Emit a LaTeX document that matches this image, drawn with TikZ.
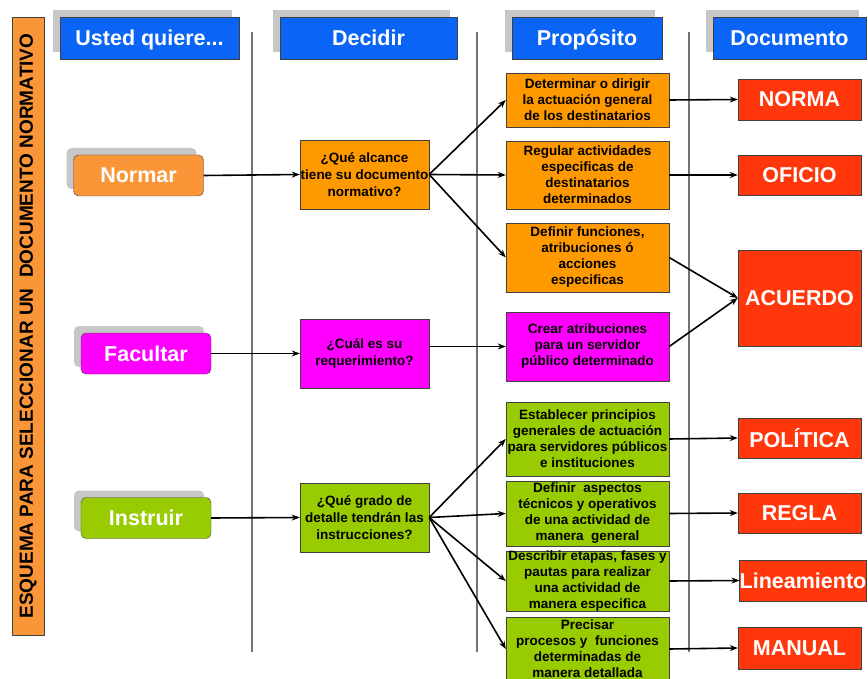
\documentclass[tikz,border=0pt]{standalone}
\usepackage{fontspec}
\setmainfont{Liberation Sans}
\usetikzlibrary{arrows.meta,shadows}
\definecolor{azul}{RGB}{10,100,245}
\definecolor{naranja}{RGB}{255,153,0}
\definecolor{naranjab}{RGB}{250,150,55}
\definecolor{rosa}{RGB}{255,0,255}
\definecolor{verde}{RGB}{153,204,0}
\definecolor{rojo}{RGB}{255,55,10}
\begin{document}
\begin{tikzpicture}[x=1pt,y=-1pt,
    sombra/.style={drop shadow={shadow xshift=-7pt,shadow yshift=7pt,fill=black!22,opacity=1}},
    encabezado/.style={draw=black!75,fill=azul,text=white,sombra,minimum height=42pt,inner sep=0pt,text height=16pt,text depth=0pt,font=\bfseries\fontsize{21.5}{24}\selectfont},
    accion/.style={draw=black!75,rounded corners=5pt,text=white,sombra,minimum width=130pt,minimum height=41pt,inner sep=0pt,font=\bfseries\fontsize{21.5}{24}\selectfont},
    pregunta/.style={draw=black!75,minimum width=129pt,minimum height=69pt,inner sep=0pt,align=center,font=\bfseries\fontsize{13.5}{17}\selectfont},
    proposito/.style={draw=black!75,minimum width=163pt,inner sep=0pt,align=center,font=\bfseries\fontsize{13.5}{16}\selectfont},
    documento/.style={draw=black!75,fill=rojo,text=white,minimum width=123pt,inner sep=0pt,font=\bfseries\fontsize{21.5}{24}\selectfont},
    separador/.style={draw=black!55,line width=1.5pt},
    flecha/.style={line width=1.6pt,-{Stealth[length=8pt,width=6pt]}}]
  \useasboundingbox (0,0) rectangle (868,679);
  % banda lateral
  \node[draw=black!75,fill=naranjab,rotate=90,minimum width=618pt,minimum height=32pt,inner sep=0pt,
    font=\bfseries\fontsize{19}{22}\selectfont] (titulo) at (28,326) {ESQUEMA PARA SELECCIONAR UN~~DOCUMENTO NORMATIVO};
  \draw[separador] (252,32) -- (252,652);
  \draw[separador] (477,32) -- (477,652);
  \draw[separador] (689,32) -- (689,652);
  % encabezados
  \node[encabezado,minimum width=179pt] (usted) at (149.5,38) {Usted quiere...};
  \node[encabezado,minimum width=177pt] (decidir) at (368.5,38) {Decidir};
  \node[encabezado,minimum width=150pt] (proposito) at (587,38) {Propósito};
  \node[encabezado,minimum width=153pt] (documento) at (789.5,38) {Documento};
  % columna 1
  \node[accion,fill=naranjab] (normar) at (138.5,175.5) {Normar};
  \node[accion,fill=rosa] (facultar) at (146,353.5) {Facultar};
  \node[accion,fill=verde] (instruir) at (146,518) {Instruir};
  % columna 2
  \node[pregunta,fill=naranja] (q1) at (364.5,174.5) {¿Qué alcance\\tiene su documento\\normativo?};
  \node[pregunta,fill=rosa] (q2) at (364.5,353.5) {¿Cuál es su\\requerimiento?};
  \node[pregunta,fill=verde] (q3) at (364.5,517.5) {¿Qué grado de\\detalle tendrán las\\instrucciones?};
  % columna 3
  \node[proposito,fill=naranja,minimum height=54pt] (p1) at (587.5,100) {Determinar o dirigir\\la actuación general\\de los destinatarios};
  \node[proposito,fill=naranja,minimum height=68pt] (p2) at (587.5,175) {Regular actividades\\especificas de\\destinatarios\\determinados};
  \node[proposito,fill=naranja,minimum height=69pt] (p3) at (587.5,257.5) {Definir funciones,\\atribuciones ó\\acciones\\especificas};
  \node[proposito,fill=rosa,minimum height=69pt] (p4) at (587.5,346.5) {Crear atribuciones\\para un servidor\\público determinado};
  \node[proposito,fill=verde,minimum height=74pt] (p5) at (587.5,439) {Establecer principios\\generales de actuación\\para servidores públicos\\e instituciones};
  \node[proposito,fill=verde,minimum height=65pt] (p6) at (587.5,513.5) {Definir~~aspectos\\técnicos y operativos\\de una actividad de\\manera~~general};
  \node[proposito,fill=verde,minimum height=60pt] (p7) at (587.5,581) {Describir etapas, fases y\\pautas para realizar\\una actividad de\\manera especifica};
  \node[proposito,fill=verde,minimum height=64pt] (p8) at (587.5,649) {Precisar\\procesos y~~funciones\\determinadas de\\manera detallada};
  % columna 4
  \node[documento,minimum height=41pt] (norma) at (799.5,99.5) {NORMA};
  \node[documento,minimum height=40pt] (oficio) at (799.5,175) {OFICIO};
  \node[documento,minimum height=96pt] (acuerdo) at (799.5,298) {ACUERDO};
  \node[documento,minimum height=40pt] (politica) at (799.5,438) {POLÍTICA};
  \node[documento,minimum height=40pt] (regla) at (799.5,513) {REGLA};
  \node[documento,minimum height=41pt,minimum width=126pt] (lineamiento) at (803,580.5) {Lineamiento};
  \node[documento,minimum height=42pt] (manual) at (799.5,648) {MANUAL};
  % flechas
  \draw[flecha] (normar.east) -- (q1.west);
  \draw[flecha] (facultar.east) -- (q2.west);
  \draw[flecha] (instruir.east) -- (q3.west);
  \draw[flecha] (q1.east) -- (p1.west);
  \draw[flecha] (q1.east) -- (p2.west);
  \draw[flecha] (q1.east) -- (p3.west);
  \draw[flecha] (p4.west -| q2.east) -- (p4.west);
  \draw[flecha] (q3.east) -- (p5.west);
  \draw[flecha] (q3.east) -- (p6.west);
  \draw[flecha] (q3.east) -- (p7.west);
  \draw[flecha] (q3.east) -- (p8.west);
  \draw[flecha] (p1.east) -- (norma.west);
  \draw[flecha] (p2.east) -- (oficio.west);
  \draw[flecha] (p3.east) -- (acuerdo.west);
  \draw[flecha] (p4.east) -- (acuerdo.west);
  \draw[flecha] (p5.east) -- (politica.west);
  \draw[flecha] (p6.east) -- (regla.west);
  \draw[flecha] (p7.east) -- (lineamiento.west);
  \draw[flecha] (p8.east) -- (manual.west);
\end{tikzpicture}
\end{document}
